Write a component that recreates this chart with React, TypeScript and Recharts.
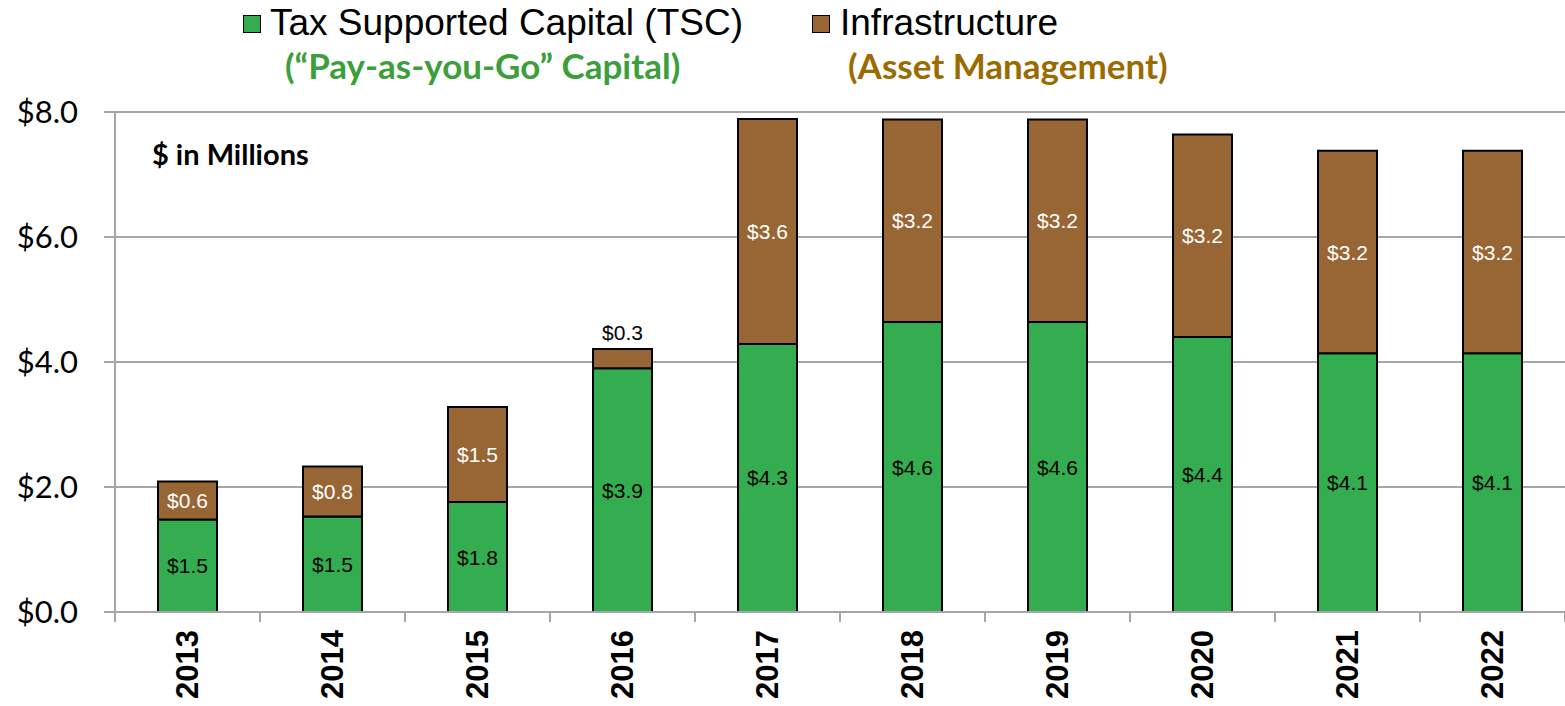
import { BarChart, Bar, XAxis, YAxis, CartesianGrid, LabelList } from "recharts";

// values in $ millions
const years = ["2013", "2014", "2015", "2016", "2017", "2018", "2019", "2020", "2021", "2022"];
const tscValues = [1.48, 1.53, 1.76, 3.9, 4.29, 4.64, 4.64, 4.4, 4.14, 4.14];
const infraValues = [0.61, 0.8, 1.52, 0.31, 3.6, 3.24, 3.24, 3.24, 3.24, 3.24];
const yTicks = [0, 2, 4, 6, 8];

const GREEN = "#34AD50";
const BROWN = "#986534";

const data = years.map((year, i) => ({ year, tsc: tscValues[i], infra: infraValues[i] }));

const money = (v: number) => `$${v.toFixed(1)}`;

function YearTick(props: any) {
  const { x, y, payload, index, width, visibleTicksCount } = props;
  const step = width && visibleTicksCount ? width / visibleTicksCount : 145;
  const left = x - step / 2;
  return (
    <g>
      <line x1={left} y1={y - 8} x2={left} y2={y + 2} stroke="#A6A6A6" strokeWidth={2} />
      {index === visibleTicksCount - 1 && (
        <line x1={left + step} y1={y - 8} x2={left + step} y2={y + 2} stroke="#A6A6A6" strokeWidth={2} />
      )}
      <text
        x={x}
        y={y + 10}
        transform={`rotate(-90, ${x}, ${y + 10})`}
        textAnchor="end"
        dominantBaseline="central"
        fontFamily="Liberation Sans, Arial, sans-serif"
        fontWeight="bold"
        fontSize={31}
        fill="#000"
      >
        {payload.value}
      </text>
    </g>
  );
}

function SegmentLabel(props: any) {
  const { x, y, width, height, value, fillText, small } = props;
  const cx = x + width / 2;
  const above = small && height < 30;
  return (
    <text
      x={cx}
      y={above ? y - 16 : y + height / 2}
      textAnchor="middle"
      dominantBaseline="central"
      fontFamily="Liberation Sans, Arial, sans-serif"
      fontSize={21}
      fill={above ? "#000" : fillText}
    >
      {money(value)}
    </text>
  );
}

export default function App() {
  return (
    <div style={{ position: "absolute", left: 0, top: 0, width: 1565, height: 706, background: "#fff" }}>
      <BarChart
        width={1565}
        height={706}
        data={data}
        margin={{ top: 112, right: 0, bottom: 0, left: 0 }}
        barSize={59}
      >
        <CartesianGrid vertical={false} stroke="#A6A6A6" strokeWidth={2} />
        <XAxis
          dataKey="year"
          height={94}
          axisLine={{ stroke: "#A6A6A6", strokeWidth: 2 }}
          tickLine={false}
          tick={<YearTick />}
          interval={0}
        />
        <YAxis
          width={115}
          domain={[0, 8]}
          ticks={yTicks}
          interval={0}
          axisLine={{ stroke: "#A6A6A6", strokeWidth: 2 }}
          tickLine={{ stroke: "#A6A6A6", strokeWidth: 2 }}
          tickSize={11}
          tickMargin={26}
          tickFormatter={money}
          tick={{ fontFamily: "Lato, sans-serif", fontSize: 31, fill: "#000" }}
        />
        <Bar dataKey="tsc" stackId="a" fill={GREEN} stroke="#000" strokeWidth={2} isAnimationActive={false}>
          <LabelList dataKey="tsc" content={<SegmentLabel fillText="#000" />} />
        </Bar>
        <Bar dataKey="infra" stackId="a" fill={BROWN} stroke="#000" strokeWidth={2} isAnimationActive={false}>
          <LabelList dataKey="infra" content={<SegmentLabel fillText="#fff" small />} />
        </Bar>
      </BarChart>

      {/* legend */}
      <div style={{ position: "absolute", left: 243, top: 15, width: 16, height: 16, background: GREEN, border: "1.5px solid #000" }} />
      <div style={{ position: "absolute", left: 270, top: 2, fontFamily: "Liberation Sans, Arial, sans-serif", fontSize: 37, color: "#000", whiteSpace: "nowrap", lineHeight: "42px" }}>
        Tax Supported Capital (TSC)
      </div>
      <div style={{ position: "absolute", left: 285, top: 44, fontFamily: "Lato, sans-serif", fontWeight: 700, fontSize: 35, color: "#3C9F3C", whiteSpace: "nowrap", lineHeight: "42px" }}>
        (“Pay-as-you-Go” Capital)
      </div>
      <div style={{ position: "absolute", left: 812, top: 15, width: 16, height: 16, background: BROWN, border: "1.5px solid #000" }} />
      <div style={{ position: "absolute", left: 840, top: 2, fontFamily: "Liberation Sans, Arial, sans-serif", fontSize: 37, color: "#000", whiteSpace: "nowrap", lineHeight: "42px" }}>
        Infrastructure
      </div>
      <div style={{ position: "absolute", left: 848, top: 44, fontFamily: "Lato, sans-serif", fontWeight: 700, fontSize: 35, color: "#9C6B00", whiteSpace: "nowrap", lineHeight: "42px" }}>
        (Asset Management)
      </div>

      <div style={{ position: "absolute", left: 152, top: 136, fontFamily: "Lato, sans-serif", fontWeight: 700, fontSize: 29, color: "#000", whiteSpace: "nowrap", lineHeight: "36px" }}>
        $ in Millions
      </div>
    </div>
  );
}
